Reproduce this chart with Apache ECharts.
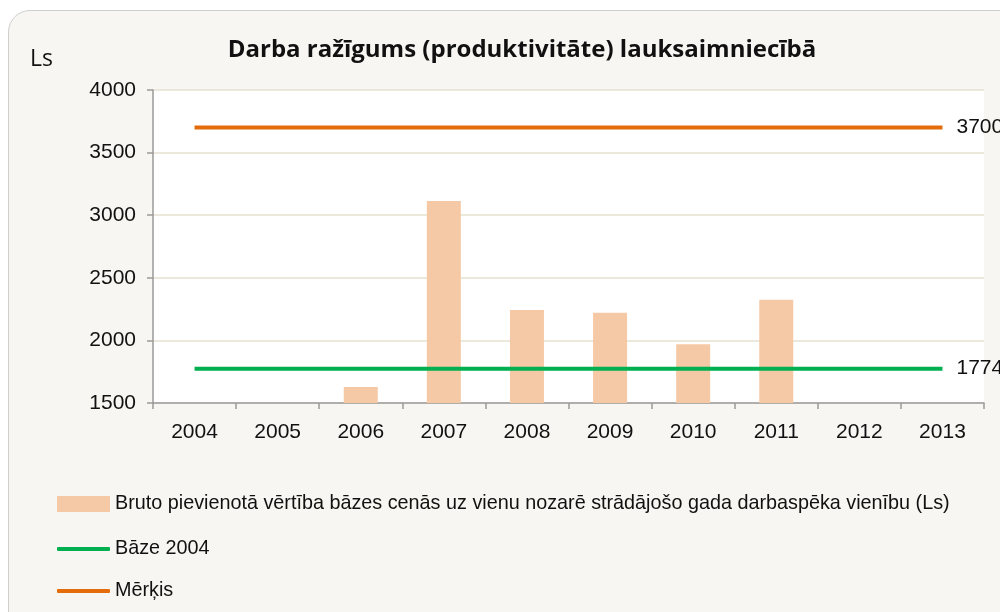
<!DOCTYPE html>
<html>
<head>
<meta charset="utf-8">
<script src="https://cdn.jsdelivr.net/npm/echarts@6/dist/echarts.min.js"></script>
<style>
	html, body { margin: 0; padding: 0; background: #fff; overflow: hidden; }
	#frame {
		position: absolute; left: 8px; top: 10px; width: 1040px; height: 640px;
		background: #f7f6f2; border: 1px solid #cfcfcf; border-radius: 22px;
	}
	#chart { position: absolute; left: 0; top: 0; width: 1000px; height: 612px; }
</style>
</head>
<body>
<div id="frame"></div>
<div id="chart"></div>
<script>
const years = ["2004", "2005", "2006", "2007", "2008", "2009", "2010", "2011", "2012", "2013"];
const grossValue = [null, null, 1628, 3113, 2243, 2220, 1969, 2325, null, null];
const base2004 = [1774, 1774, 1774, 1774, 1774, 1774, 1774, 1774, 1774, 1774];
const target = [3700, 3700, 3700, 3700, 3700, 3700, 3700, 3700, 3700, 3700];

const barName = "Bruto pievienotā vērtība bāzes cenās uz vienu nozarē strādājošo gada darbaspēka vienību (Ls)";
const baseName = "Bāze 2004";
const targetName = "Mērķis";

const sans = "'Liberation Sans', Arial, sans-serif";
const head = "'Open Sans', sans-serif";

const chart = echarts.init(document.getElementById("chart"), null, { renderer: "canvas" });

// one legend per row, stacked like the original
function legendRow(name, top, icon, h) {
	return {
		left: 57,
		top: top,
		padding: 0,
		itemWidth: 53,
		itemHeight: h,
		icon: icon,
		textStyle: { fontFamily: sans, fontSize: 19.8, color: "#111", padding: [0, 0, 0, 0] },
		data: [name],
	};
}

const option = {
	animation: false,
	title: [
		{
			text: "Darba ražīgums (produktivitāte) lauksaimniecībā",
			left: 517,
			top: 33,
			textAlign: "center",
			textStyle: { fontFamily: head, fontWeight: "bold", fontSize: 24, color: "#111" },
		},
		{
			text: "Ls",
			left: 25,
			top: 43,
			textStyle: { fontFamily: head, fontWeight: "normal", fontSize: 23, color: "#111" },
		},
	],
	grid: {
		left: 153,
		right: 16,
		top: 90,
		bottom: 209,
		show: true,
		backgroundColor: "#fff",
		borderWidth: 0,
	},
	legend: [
		legendRow(barName, 494, "rect", 16),
		legendRow(baseName, 539, "roundRect", 4),
		legendRow(targetName, 581, "roundRect", 4),
	],
	xAxis: {
		type: "category",
		data: years,
		axisLine: { lineStyle: { color: "#9a9a9a", width: 1.5 } },
		axisTick: { show: true, length: 6, lineStyle: { color: "#9a9a9a", width: 1.5 } },
		axisLabel: { fontFamily: sans, fontSize: 21, color: "#111", margin: 19 },
	},
	yAxis: {
		type: "value",
		min: 1500,
		max: 4000,
		interval: 500,
		axisLine: { show: true, lineStyle: { color: "#9a9a9a", width: 1.5 } },
		axisTick: { show: true, length: 6, lineStyle: { color: "#9a9a9a", width: 1.5 } },
		axisLabel: { fontFamily: sans, fontSize: 21, color: "#111", margin: 17, formatter: (v) => String(v) },
		splitLine: { lineStyle: { color: "#e6e0d0", width: 1.5 } },
	},
	series: [
		{
			name: barName,
			type: "bar",
			data: grossValue,
			barWidth: 34,
			itemStyle: { color: "#f5c9a5" },
		},
		{
			name: baseName,
			type: "line",
			data: base2004,
			symbol: "none",
			lineStyle: { color: "#00b050", width: 4 },
			itemStyle: { color: "#00b050" },
			endLabel: { show: true, formatter: "{c}", distance: 14, fontFamily: sans, fontSize: 21, color: "#111" },
		},
		{
			name: targetName,
			type: "line",
			data: target,
			symbol: "none",
			lineStyle: { color: "#e46c0a", width: 4 },
			itemStyle: { color: "#e46c0a" },
			endLabel: { show: true, formatter: "{c}", distance: 14, fontFamily: sans, fontSize: 21, color: "#111" },
		},
	],
};

chart.setOption(option);
</script>
</body>
</html>
